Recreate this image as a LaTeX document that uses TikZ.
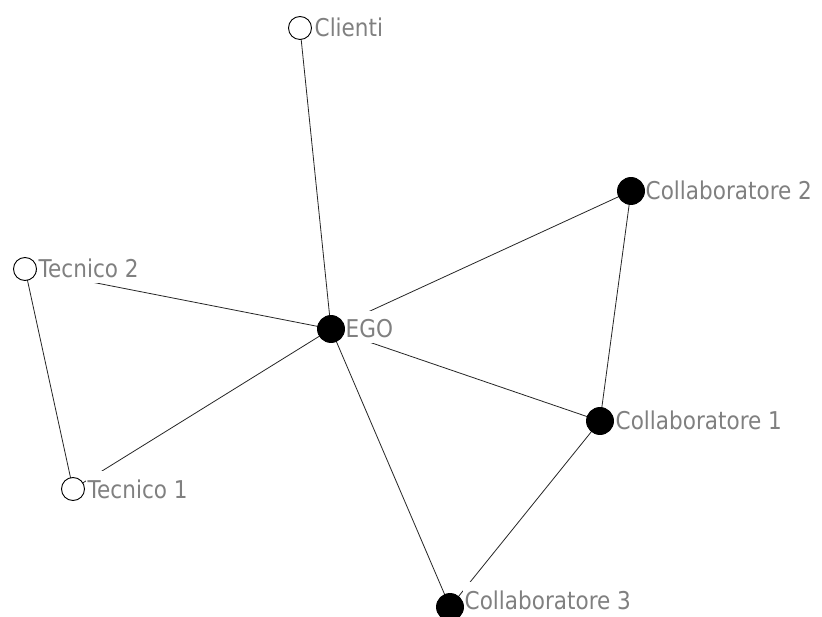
\documentclass[tikz,border=0pt]{standalone}
\usepackage{fontspec}
\setmainfont[FakeStretch=0.88]{DejaVu Sans}
\definecolor{labelgray}{RGB}{128,128,128}
\begin{document}
\begin{tikzpicture}[x=1pt,y=-1pt,
  actor/.style={circle,draw=black,line width=0.9pt,inner sep=0pt,minimum size=23pt},
  outsider/.style={actor,fill=white},
  member/.style={actor,fill=black,minimum size=27pt},
  tag/.style={anchor=base west,fill=white,inner sep=0pt,inner xsep=1.5pt,
    text height=27pt,text depth=5pt,text=labelgray,font=\fontsize{24.5pt}{26pt}\selectfont},
  tie/.style={draw=black!85,line width=0.8pt}]
\useasboundingbox (0,0) rectangle (822,617);
\fill[white] (0,0) rectangle (822,617);

% actor positions
\coordinate (pC)  at (300,28);
\coordinate (pK2) at (631,191);
\coordinate (pT2) at (25,269);
\coordinate (pE)  at (331,329);
\coordinate (pK1) at (600,421);
\coordinate (pT1) at (73,489);
\coordinate (pK3) at (450,607);

% ties
\draw[tie] (pC) -- (pE);
\draw[tie] (pT2) -- (pE);
\draw[tie] (pT1) -- (pE);
\draw[tie] (pT2) -- (pT1);
\draw[tie] (pE) -- (pK2);
\draw[tie] (pE) -- (pK1);
\draw[tie] (pE) -- (pK3);
\draw[tie] (pK2) -- (pK1);
\draw[tie] (pK1) -- (pK3);

% labels on opaque boxes
\node[tag] (lC)  at ([xshift=13pt,yshift=-9pt]pC)  {Clienti};
\node[tag] (lK2) at ([xshift=13pt,yshift=-9pt]pK2) {Collaboratore 2};
\node[tag] (lT2) at ([xshift=12pt,yshift=-9pt]pT2) {Tecnico 2};
\node[tag] (lE)  at ([xshift=13pt,yshift=-9pt]pE)  {EGO};
\node[tag] (lK1) at ([xshift=14pt,yshift=-8pt]pK1) {Collaboratore 1};
\node[tag] (lT1) at ([xshift=13pt,yshift=-9pt]pT1) {Tecnico 1};
\node[tag] (lK3) at ([xshift=13pt,yshift=-2pt]pK3) {Collaboratore 3};

% actors
\node[outsider] (C)  at (pC)  {};
\node[member]   (K2) at (pK2) {};
\node[outsider] (T2) at (pT2) {};
\node[member]   (E)  at (pE)  {};
\node[member]   (K1) at (pK1) {};
\node[outsider] (T1) at (pT1) {};
\node[member]   (K3) at (pK3) {};
\end{tikzpicture}
\end{document}
